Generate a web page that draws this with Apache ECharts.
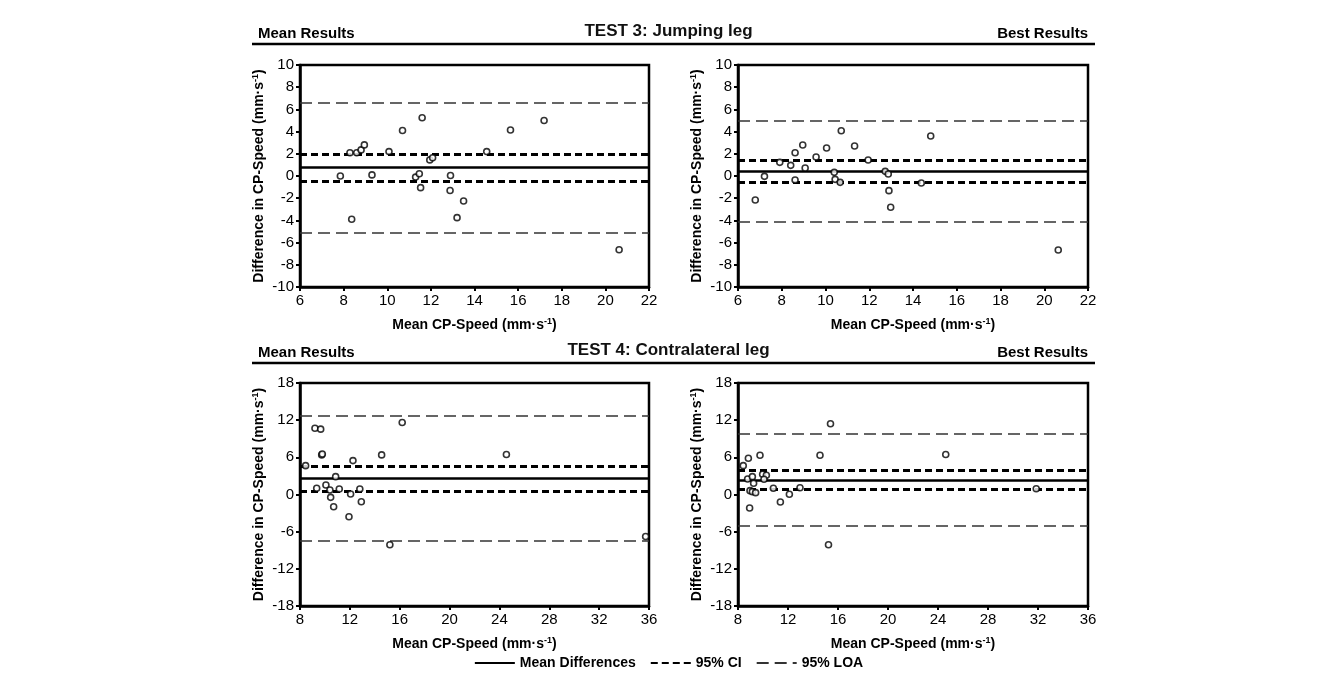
<!DOCTYPE html>
<html>
<head>
<meta charset="utf-8">
<script src="https://cdn.jsdelivr.net/npm/echarts@6/dist/echarts.min.js"></script>
<style>
  html, body { margin: 0; padding: 0; background: #fff; }
  #chart { width: 1337px; height: 680px; }
</style>
</head>
<body>
<div id="chart"></div>
<script>
// TEST 3 jumping leg, mean results  [mean, difference]
const t3Mean = [
  [7.85, 0.0], [8.29, 2.1], [8.37, -3.9], [8.6, 2.1], [8.8, 2.35], [8.95, 2.8],
  [9.3, 0.1], [10.08, 2.2], [10.7, 4.1], [11.3, -0.1], [11.47, 0.2], [11.53, -1.05],
  [11.6, 5.25], [11.95, 1.45], [12.08, 1.65], [12.9, 0.05], [12.88, -1.3],
  [13.2, -3.75], [13.5, -2.25], [14.56, 2.2], [15.65, 4.15], [17.19, 5.0], [20.63, -6.65]
]
// TEST 3 jumping leg, best results
const t3Best = [
  [6.79, -2.16], [7.21, -0.03], [7.91, 1.23], [8.41, 0.96], [8.61, 2.1], [8.61, -0.36],
  [8.96, 2.79], [9.07, 0.72], [9.57, 1.71], [10.05, 2.52], [10.4, 0.33], [10.44, -0.3],
  [10.67, -0.57], [10.72, 4.08], [11.33, 2.7], [11.95, 1.44], [12.73, 0.42],
  [12.87, 0.18], [12.9, -1.32], [12.98, -2.82], [14.38, -0.63], [14.81, 3.6], [20.64, -6.66]
]
// TEST 4 contralateral leg, mean results
const t4Mean = [
  [8.45, 4.66], [9.2, 10.7], [9.34, 1.0], [9.66, 10.55], [9.74, 6.39], [9.79, 6.55],
  [10.08, 1.54], [10.4, 0.73], [10.46, -0.46], [10.7, -1.97], [10.86, 2.88],
  [11.15, 0.89], [11.93, -3.59], [12.06, 0.08], [12.25, 5.47], [12.8, 0.89],
  [12.92, -1.16], [14.55, 6.39], [15.21, -8.12], [16.2, 11.62], [24.56, 6.45], [35.73, -6.77]
]
// TEST 4 contralateral leg, best results
const t4Best = [
  [8.42, 4.66], [8.83, 5.85], [9.76, 6.34], [14.56, 6.34], [8.77, 2.5], [9.15, 2.88],
  [9.25, 1.81], [8.96, 0.62], [9.15, 0.46], [9.41, 0.3], [9.97, 3.27], [10.27, 3.1],
  [10.08, 2.46], [10.83, 1.0], [8.93, -2.18], [11.39, -1.21], [12.11, 0.03],
  [12.96, 1.1], [15.4, 11.41], [15.24, -8.12], [24.62, 6.45], [31.86, 0.94]
]

// reference lines per panel: mean difference, 95% CI [lo, hi], 95% LOA [lo, hi]
const meanDiff = [0.78, 0.42, 2.67, 2.35]
const ci = [[-0.48, 1.95], [-0.54, 1.44], [0.46, 4.61], [0.84, 3.97]]
const loa = [[-5.08, 6.56], [-4.11, 5.01], [-7.53, 12.71], [-5.05, 9.85]]

// axis ranges
const xTop = { min: 6, max: 22, interval: 2 }
const yTop = { min: -10, max: 10, interval: 2 }
const xBottom = { min: 8, max: 36, interval: 4 }
const yBottom = { min: -18, max: 18, interval: 6 }

const panels = [t3Mean, t3Best, t4Mean, t4Best]
const FONT = 'Liberation Sans, Arial, sans-serif'

const chart = echarts.init(document.getElementById('chart'))

const grids = [
  { left: 300, top: 65, width: 349, height: 222 },
  { left: 738, top: 65, width: 350, height: 222 },
  { left: 300, top: 383, width: 349, height: 223 },
  { left: 738, top: 383, width: 350, height: 223 }
].map(g => Object.assign(g, { show: true, borderColor: '#000', borderWidth: 2.5, backgroundColor: '#fff' }))

const axisLine = { show: true, onZero: false, lineStyle: { color: '#000', width: 2.5 } }
const axisTick = { show: true, inside: false, length: 4, lineStyle: { color: '#000', width: 2 } }
const axisLabel = { color: '#000', fontSize: 15, fontFamily: FONT, margin: 6 }
const titleRich = {
  a: { fontSize: 14, fontWeight: 'bold', fontFamily: FONT, color: '#000' },
  s: { fontSize: 9, fontWeight: 'bold', fontFamily: FONT, color: '#000', verticalAlign: 'top', padding: [0, 0, 7, 0] }
}

const xAxes = [0, 1, 2, 3].map(i => Object.assign({
  type: 'value', gridIndex: i,
  name: '{a|Mean CP-Speed (mm·s}{s|-1}{a|)}',
  nameLocation: 'middle', nameGap: 30,
  nameTextStyle: { rich: titleRich },
  axisLine, axisTick, axisLabel, splitLine: { show: false }
}, i < 2 ? xTop : xBottom))

const yAxes = [0, 1, 2, 3].map(i => Object.assign({
  type: 'value', gridIndex: i,
  name: '{a|Difference in CP-Speed (mm·s}{s|-1}{a|)}',
  nameLocation: 'middle', nameGap: 33, nameRotate: 90,
  nameTextStyle: { rich: titleRich },
  axisLine, axisTick, axisLabel, splitLine: { show: false }
}, i < 2 ? yTop : yBottom))

function refLine(name, values, style, i) {
  return {
    name, type: 'line', xAxisIndex: i, yAxisIndex: i, data: [],
    symbol: 'none', lineStyle: style, itemStyle: { color: '#000' },
    markLine: {
      silent: true, symbol: 'none', label: { show: false },
      lineStyle: style,
      data: values.map(v => ({ yAxis: v }))
    }
  }
}

const meanStyle = { color: '#000', width: 2.5, type: 'solid' }
const ciStyle = { color: '#000', width: 3, type: [7, 4] }
const loaStyle = { color: '#333', width: 1.5, type: [12, 6] }

const series = []
panels.forEach((pts, i) => {
  series.push({
    name: 'points' + i, type: 'scatter', xAxisIndex: i, yAxisIndex: i,
    data: pts, symbol: 'circle', symbolSize: 6, z: 5,
    itemStyle: { color: '#fff', borderColor: '#000', borderWidth: 1.6 }
  })
  series.push(refLine('Mean Differences', [meanDiff[i]], meanStyle, i))
  series.push(refLine('95% CI', ci[i], ciStyle, i))
  series.push(refLine('95% LOA', loa[i], loaStyle, i))
})

const header = (y, title) => [
  { type: 'text', left: 258, top: y, style: { text: 'Mean Results', font: 'bold 15px ' + FONT, fill: '#000' } },
  { type: 'text', left: 'center', top: y - 3, style: { text: title, font: 'bold 17px ' + FONT, fill: '#111' } },
  { type: 'text', right: 249, top: y, style: { text: 'Best Results', font: 'bold 15px ' + FONT, fill: '#000' } },
  { type: 'line', shape: { x1: 252, y1: y + 18, x2: 1095, y2: y + 18 }, style: { stroke: '#000', lineWidth: 2.5 } }
]

chart.setOption({
  animation: false,
  textStyle: { fontFamily: FONT },
  grid: grids,
  xAxis: xAxes,
  yAxis: yAxes,
  legend: {
    data: ['Mean Differences', '95% CI', '95% LOA'],
    bottom: 5, left: 'center',
    itemWidth: 40, itemHeight: 10, itemGap: 14,
    itemStyle: { color: 'transparent', borderColor: 'transparent', borderWidth: 0, opacity: 0 },
    textStyle: { color: '#000', fontSize: 14, fontWeight: 'bold', fontFamily: FONT },
    selectedMode: false
  },
  graphic: header(26, 'TEST 3: Jumping leg').concat(header(345, 'TEST 4: Contralateral leg')),
  series
})
</script>
</body>
</html>
